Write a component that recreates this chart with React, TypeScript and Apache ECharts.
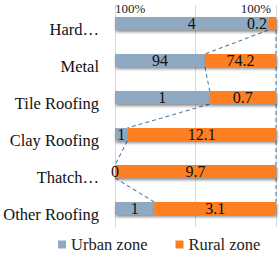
import React, { useEffect, useRef } from "react";
import * as echarts from "echarts";

const categories = ["Hard…", "Metal", "Tile Roofing", "Clay Roofing", "Thatch…", "Other Roofing"];
const urbanValues = [4, 94, 1, 1, 0, 1];
const ruralValues = [0.2, 74.2, 0.7, 12.1, 9.7, 3.1];
const tickLabels = ["100%", "", "100%"];
const seriesNames = ["Urban zone", "Rural zone"];

const FONT = "'Liberation Serif', serif";
const BAR_H = 13;

export default function App() {
  const ref = useRef<HTMLDivElement>(null);
  useEffect(() => {
    if (!ref.current) return;
    const chart = echarts.init(ref.current, undefined, { renderer: "svg" });
    const totals = urbanValues.map((u, i) => u + ruralValues[i]);
    const urbanPct = urbanValues.map((u, i) => (u / totals[i]) * 100);
    const ruralPct = ruralValues.map((r, i) => (r / totals[i]) * 100);
    const links: number[][] = [];
    for (let i = 0; i < categories.length - 1; i++) {
      links.push([urbanPct[i], i, urbanPct[i + 1], i + 1]);
      links.push([100, i, 100, i + 1]);
    }
    const shadow = {
      shadowBlur: 3,
      shadowOffsetY: 2,
      shadowOffsetX: 1,
      shadowColor: "rgba(0,0,0,0.45)",
    };
    const label = (vals: number[]) => ({
      show: true,
      position: "inside" as const,
      color: "#111",
      fontFamily: FONT,
      fontSize: 16,
      formatter: (p: any) => String(vals[p.dataIndex]),
    });
    const ruralData = ruralPct.map((v, i) => {
      const narrow = v < 10 && ruralValues[i] > 0 && i === 0;
      return narrow
        ? { value: v, label: { position: "insideRight" as const, offset: [-4, 0] } }
        : v;
    });
    chart.setOption({
      animation: false,
      grid: { left: 115, right: 3, top: 5, bottom: 29, containLabel: false },
      xAxis: {
        type: "value",
        position: "top",
        min: 0,
        max: 100,
        interval: 50,
        axisLine: { show: false },
        axisTick: { show: false },
        splitLine: { show: true, lineStyle: { color: "#d9d9d9", width: 1 } },
        axisLabel: {
          margin: -10,
          fontFamily: FONT,
          fontSize: 13,
          color: "#222",
          alignMinLabel: "left",
          alignMaxLabel: "right",
          padding: [0, 5, 0, 0],
          formatter: (v: number) => tickLabels[Math.round(v / 50)] ?? "",
        },
      },
      yAxis: {
        type: "category",
        inverse: true,
        data: categories,
        axisLine: { show: true, lineStyle: { color: "#d9d9d9" } },
        axisTick: { show: false },
        axisLabel: {
          fontFamily: FONT,
          fontSize: 16.5,
          color: "#111",
          margin: 16,
          verticalAlign: "top",
          lineHeight: 11,
        },
      },
      legend: {
        bottom: -2,
        left: 53,
        icon: "rect",
        itemWidth: 8,
        itemHeight: 8,
        itemGap: 28,
        textStyle: { fontFamily: FONT, fontSize: 16.5, color: "#222" },
        data: seriesNames,
      },
      series: [
        {
          name: seriesNames[0],
          type: "bar",
          stack: "s",
          barWidth: BAR_H,
          data: urbanPct,
          itemStyle: { color: "#8EA9C1", ...shadow },
          label: label(urbanValues),
          z: 3,
        },
        {
          name: seriesNames[1],
          type: "bar",
          stack: "s",
          barWidth: BAR_H,
          data: ruralData,
          itemStyle: { color: "#FD7F24", ...shadow },
          label: label(ruralValues),
          z: 3,
        },
        {
          type: "custom",
          silent: true,
          z: 2,
          data: links,
          renderItem: (params: any, api: any) => {
            const p1 = api.coord([api.value(0), api.value(1)]);
            const p2 = api.coord([api.value(2), api.value(3)]);
            return {
              type: "line",
              shape: { x1: p1[0], y1: p1[1] + BAR_H / 2, x2: p2[0], y2: p2[1] - BAR_H / 2 },
              style: { stroke: "#5580AA", lineWidth: 1.1, lineDash: [4, 3] },
            };
          },
        },
      ],
    });
    return () => chart.dispose();
  }, []);
  return <div ref={ref} style={{ width: 279, height: 256, position: "absolute", left: 0, top: 0 }} />;
}
